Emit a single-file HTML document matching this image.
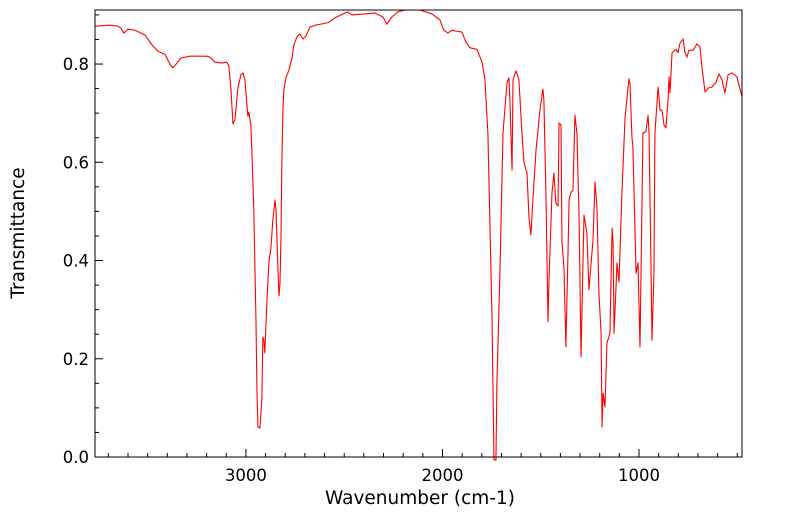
<!DOCTYPE html>
<html><head><meta charset="utf-8"><style>
html,body{margin:0;padding:0;background:#fff;}
svg{display:block;font-family:"DejaVu Sans","Liberation Sans",sans-serif;}
</style></head><body>
<svg id="chart" width="799" height="516" xmlns="http://www.w3.org/2000/svg">
<rect x="0" y="0" width="799" height="516" fill="#fff"/>
<g id="ticks"></g>
<polyline id="spectrum" fill="none" stroke="#ff0000" stroke-width="1.1" stroke-linejoin="round"/>
<rect x="95" y="10" width="647" height="447" fill="none" stroke="#000" stroke-width="1"/>
<text x="420" y="504" font-size="18.5" text-anchor="middle">Wavenumber (cm-1)</text>
<text x="0" y="0" font-size="18.5" text-anchor="middle" transform="translate(24,233) rotate(-90)">Transmittance</text>
</svg>
<script>
const wavenumbers = [3768,3692,3652,3636,3621,3601,3565,3514,3478,3448,3412,3387,3372,3351,3331,3285,3199,3183,3158,3122,3097,3087,3076,3066,3056,3041,3026,3015,3005,2995,2990,2985,2975,2970,2960,2949,2944,2939,2929,2919,2914,2909,2904,2893,2883,2873,2863,2852,2847,2842,2837,2832,2827,2822,2817,2812,2807,2797,2781,2766,2756,2741,2725,2710,2695,2674,2649,2583,2547,2496,2481,2461,2394,2344,2303,2283,2257,2227,2191,2115,2054,2013,1993,1972,1952,1931,1901,1881,1860,1825,1799,1784,1769,1748,1738,1728,1723,1707,1692,1672,1662,1657,1646,1641,1626,1611,1596,1585,1570,1560,1550,1540,1524,1504,1489,1484,1473,1463,1458,1443,1433,1423,1412,1407,1397,1392,1382,1372,1361,1356,1346,1336,1326,1316,1305,1295,1280,1265,1255,1234,1224,1214,1204,1193,1188,1183,1173,1163,1148,1137,1132,1127,1117,1112,1102,1087,1071,1051,1046,1036,1031,1015,1005,995,980,965,954,949,939,934,924,919,903,893,883,873,863,852,847,842,832,812,802,791,776,766,756,746,725,705,690,680,664,649,629,608,593,578,563,547,527,502,476];
const transmittance = [.877,.879,.877,.873,.863,.871,.869,.859,.839,.826,.820,.800,.792,.802,.812,.816,.816,.814,.804,.802,.804,.796,.747,.678,.686,.751,.778,.782,.768,.717,.694,.702,.676,.625,.503,.279,.136,.061,.059,.116,.244,.238,.212,.320,.397,.425,.483,.523,.503,.442,.381,.328,.350,.442,.605,.706,.747,.772,.788,.812,.839,.855,.861,.851,.857,.875,.879,.884,.894,.904,.906,.900,.902,.904,.896,.881,.896,.906,.910,.910,.902,.890,.869,.863,.869,.867,.865,.845,.833,.830,.804,.768,.660,.285,-0.02,-0.02,.151,.387,.660,.761,.772,.727,.584,.768,.786,.768,.660,.599,.578,.488,.452,.523,.625,.706,.749,.727,.523,.275,.360,.537,.578,.517,.511,.680,.676,.436,.387,.224,.421,.523,.539,.543,.696,.660,.488,.204,.492,.456,.340,.442,.560,.509,.334,.252,.061,.130,.102,.232,.252,.466,.436,.252,.346,.395,.356,.537,.692,.770,.761,.651,.631,.374,.395,.224,.660,.662,.696,.660,.387,.238,.374,.660,.753,.706,.706,.676,.670,.727,.774,.741,.823,.830,.823,.843,.851,.823,.814,.828,.828,.841,.835,.794,.743,.751,.753,.763,.780,.768,.741,.778,.782,.774,.733];
const xTickLabels = [3000,2000,1000];
const yTickLabels = ["0.0","0.2","0.4","0.6","0.8"];
const yTickValues = [0,0.2,0.4,0.6,0.8];

const X0=95,X1=742,Y0=457,Y1=10,WMAX=3768,WMIN=476,TMIN=0,TMAX=0.91;
function xs(w){return X0+(WMAX-w)/(WMAX-WMIN)*(X1-X0);}
function ys(t){return Y0-(t-TMIN)/(TMAX-TMIN)*(Y0-Y1);}
const NS="http://www.w3.org/2000/svg";
const line=document.getElementById('spectrum');
line.setAttribute('points',wavenumbers.map((w,i)=>xs(w).toFixed(2)+','+Math.min(Y0+3,ys(transmittance[i])).toFixed(2)).join(' '));
const g=document.getElementById('ticks');
function mk(tag,attrs){const e=document.createElementNS(NS,tag);for(const k in attrs)e.setAttribute(k,attrs[k]);g.appendChild(e);return e;}
for(let w=500;w<=3700;w+=100){
  const major=xTickLabels.includes(w);
  const x=xs(w);
  const t=mk('line',{x1:x,x2:x,y1:Y0,y2:Y0-(major?8:4),stroke:'#000','stroke-width':1});
  
  
}
xTickLabels.forEach(w=>{
  const t=mk('text',{x:xs(w),y:481,'font-size':16.5,'text-anchor':'middle'});
  t.textContent=w;
  
  
});
for(let i=0;i<=18;i++){
  const v=i*0.05;
  const major=(i%4===0);
  const y=ys(v);
  const t=mk('line',{x1:X0,x2:X0+(major?8:4),y1:y,y2:y,stroke:'#000','stroke-width':1});
  
  
}
yTickValues.forEach((v,i)=>{
  const t=mk('text',{x:89,y:ys(v)+6,'font-size':16.5,'text-anchor':'end'});
  t.textContent=yTickLabels[i];
  
  
});
</script>
</body></html>
